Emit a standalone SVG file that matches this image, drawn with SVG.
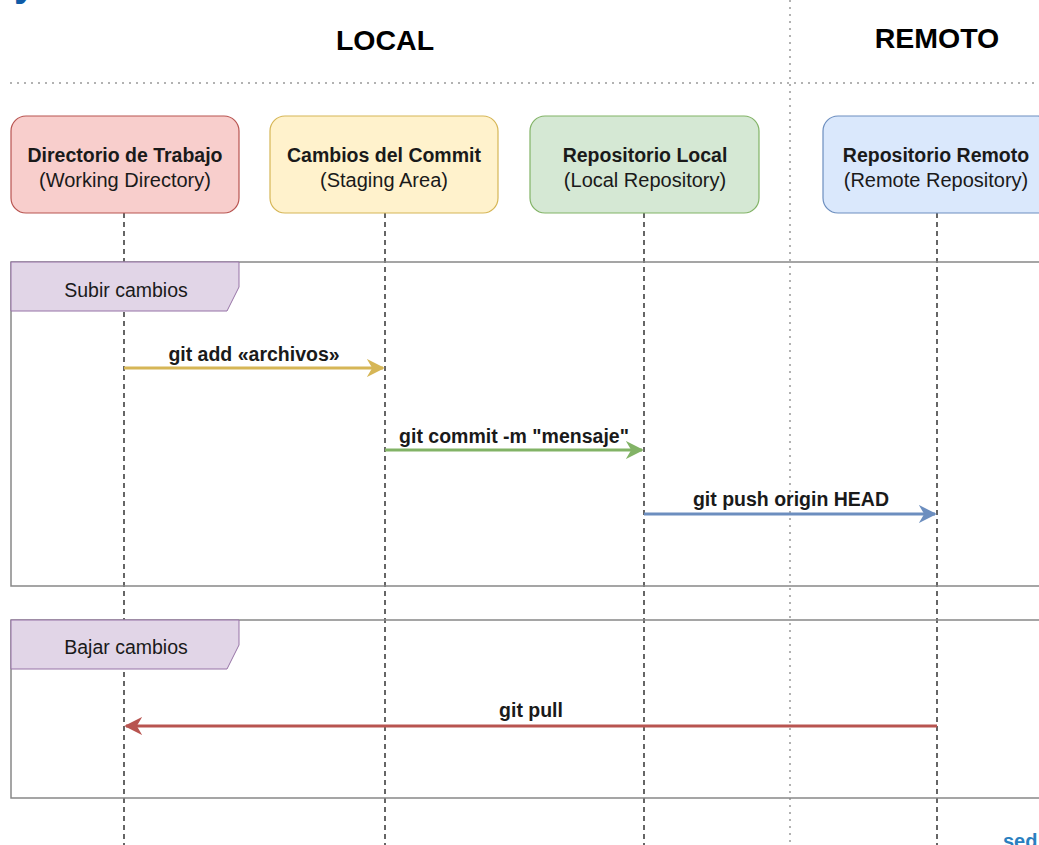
<svg xmlns="http://www.w3.org/2000/svg" width="1039" height="845" viewBox="0 0 1039 845">
<style>
text{font-family:"Liberation Sans",Arial,sans-serif;fill:#1a1a1a}
.title{font-size:28.5px;font-weight:bold;text-anchor:middle;fill:#000}
.b{font-size:19.5px;font-weight:bold;text-anchor:middle}
.n{font-size:20px;text-anchor:middle}
.lbl{font-size:19.5px;font-weight:bold;text-anchor:middle}
.life{stroke:#000;stroke-width:1.2;stroke-dasharray:5 4;fill:none}
.sep{stroke:#999;stroke-width:1.5;stroke-dasharray:2 5;fill:none}
.frame{stroke:#888;stroke-width:1.5;fill:none}
.hdr{fill:#e1d5e7;stroke:#9673a6;stroke-width:1}
.hdrt{font-size:19.5px;text-anchor:middle}
</style>
<defs>
<marker id="ay" viewBox="0 0 10 10" refX="9" refY="5" markerWidth="6" markerHeight="6" orient="auto" markerUnits="strokeWidth"><path d="M0,0 L10,5 L0,10 L3,5 Z" fill="#d6b656"/></marker>
<marker id="ag" viewBox="0 0 10 10" refX="9" refY="5" markerWidth="6" markerHeight="6" orient="auto" markerUnits="strokeWidth"><path d="M0,0 L10,5 L0,10 L3,5 Z" fill="#82b366"/></marker>
<marker id="ab" viewBox="0 0 10 10" refX="9" refY="5" markerWidth="6" markerHeight="6" orient="auto" markerUnits="strokeWidth"><path d="M0,0 L10,5 L0,10 L3,5 Z" fill="#6c8ebf"/></marker>
<marker id="ar" viewBox="0 0 10 10" refX="9" refY="5" markerWidth="6" markerHeight="6" orient="auto" markerUnits="strokeWidth"><path d="M0,0 L10,5 L0,10 L3,5 Z" fill="#b85450"/></marker>
</defs>
<rect width="1039" height="845" fill="#fff"/>
<text x="14" y="-4" style="font-size:40px;font-weight:bold;fill:#0f5ba7">y</text>
<text x="1003" y="848" style="font-size:20px;font-weight:bold;fill:#2a7fbf">sed</text>

<g id="separators">
<line class="sep" x1="10" y1="83" x2="1039" y2="83"/>
<line class="sep" x1="790" y1="0" x2="790" y2="845"/>
</g>
<text class="title" x="385" y="50">LOCAL</text>
<text class="title" x="937" y="48">REMOTO</text>

<g id="lifelines">
<line class="life" x1="124" y1="213" x2="124" y2="845"/>
<line class="life" x1="385" y1="213" x2="385" y2="845"/>
<line class="life" x1="644" y1="213" x2="644" y2="845"/>
<line class="life" x1="937" y1="213" x2="937" y2="845"/>
</g>

<g id="frame-subir">
<path class="frame" d="M1039,262 H11 V586 H1039"/>
<path class="hdr" d="M11,262 H239 V287 L227,311 H11 Z"/>
<text class="hdrt" x="126" y="297">Subir cambios</text>
</g>
<g id="frame-bajar">
<path class="frame" d="M1039,620 H11 V798 H1039"/>
<path class="hdr" d="M11,620 H239 V645 L227,669 H11 Z"/>
<text class="hdrt" x="126" y="654">Bajar cambios</text>
</g>

<g id="node-working">
<rect x="11" y="116" width="228" height="97" rx="15" fill="#f8cecc" stroke="#b85450" stroke-width="1.2"/>
<text class="b" x="125" y="162">Directorio de Trabajo</text>
<text class="n" x="125" y="187">(Working Directory)</text>
</g>
<g id="node-staging">
<rect x="270" y="116" width="228" height="97" rx="15" fill="#fff2cc" stroke="#d6b656" stroke-width="1.2"/>
<text class="b" x="384" y="162">Cambios del Commit</text>
<text class="n" x="384" y="187">(Staging Area)</text>
</g>
<g id="node-local">
<rect x="530" y="116" width="229" height="97" rx="15" fill="#d5e8d4" stroke="#82b366" stroke-width="1.2"/>
<text class="b" x="645" y="162">Repositorio Local</text>
<text class="n" x="645" y="187">(Local Repository)</text>
</g>
<g id="node-remote">
<rect x="823" y="116" width="230" height="97" rx="15" fill="#dae8fc" stroke="#6c8ebf" stroke-width="1.2"/>
<text class="b" x="936" y="162">Repositorio Remoto</text>
<text class="n" x="936" y="187">(Remote Repository)</text>
</g>

<g id="connectors">
<line x1="124" y1="368" x2="383" y2="368" stroke="#d6b656" stroke-width="3" marker-end="url(#ay)"/>
<text class="lbl" x="254" y="361">git add «archivos»</text>
<line x1="385" y1="450" x2="642" y2="450" stroke="#82b366" stroke-width="3" marker-end="url(#ag)"/>
<text class="lbl" x="514" y="443">git commit -m "mensaje"</text>
<line x1="644" y1="514" x2="935" y2="514" stroke="#6c8ebf" stroke-width="3" marker-end="url(#ab)"/>
<text class="lbl" x="791" y="506">git push origin HEAD</text>
<line x1="937" y1="726" x2="126" y2="726" stroke="#b85450" stroke-width="3" marker-end="url(#ar)"/>
<text class="lbl" x="531" y="717">git pull</text>
</g>
</svg>
